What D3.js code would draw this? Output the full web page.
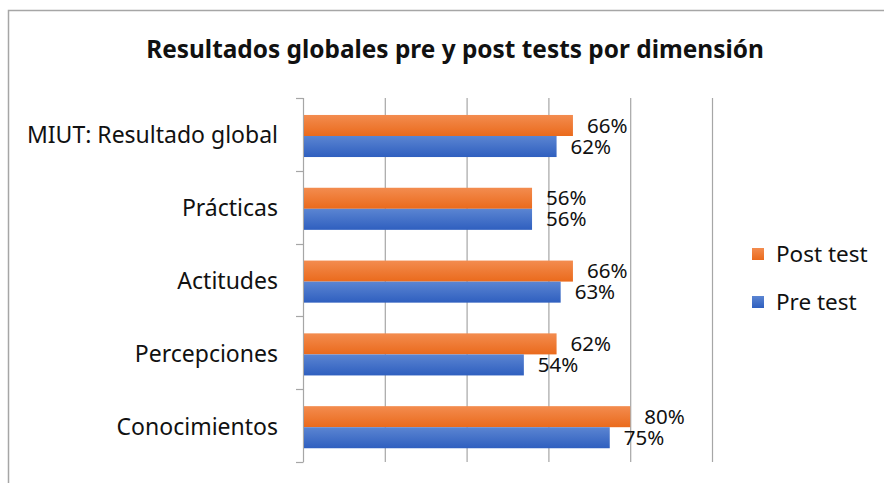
<!DOCTYPE html>
<html>
<head>
<meta charset="utf-8">
<script src="https://cdn.jsdelivr.net/npm/d3@7"></script>
<style>
  body { margin: 0; background: #fff; }
  svg text { font-family: "Noto Sans", "Open Sans", sans-serif; fill: #111; }
</style>
</head>
<body>
<div class="chart"></div>
<script>
// Data (top to bottom)
var categories = ["MIUT: Resultado global", "Prácticas", "Actitudes", "Percepciones", "Conocimientos"];
var postTest = [0.66, 0.56, 0.66, 0.62, 0.80];
var preTest = [0.62, 0.56, 0.63, 0.54, 0.75];
var seriesNames = ["Post test", "Pre test"];
var xTicks = [0, 0.2, 0.4, 0.6, 0.8, 1.0];

var width = 884, height = 483;
var svg = d3.select(".chart").append("svg")
    .attr("width", width)
    .attr("height", height);

/**
 * Gradients for the bars (Excel style)
 */
var defs = svg.append("defs");
function gradient(id, top, bottom) {
    var g = defs.append("linearGradient")
        .attr("id", id)
        .attr("x1", 0).attr("y1", 0).attr("x2", 0).attr("y2", 1);
    g.append("stop").attr("offset", "0%").attr("stop-color", top);
    g.append("stop").attr("offset", "100%").attr("stop-color", bottom);
}
gradient("gradPost", "#f38c4f", "#ea6a1c");
gradient("gradPre", "#5b85d2", "#2f5fbf");

// Outer frame
svg.append("path")
    .attr("d", "M8.5," + height + " V10.5 H" + width)
    .attr("fill", "none")
    .attr("stroke", "#a6a6a6")
    .attr("stroke-width", 1.5);

// Title
svg.append("text")
    .attr("x", 455)
    .attr("y", 58)
    .attr("text-anchor", "middle")
    .style("font-size", "24.4px")
    .style("font-weight", "bold")
    .text("Resultados globales pre y post tests por dimensión");

/**
 * Scales
 */
var x = d3.scaleLinear().domain([0, 1]).range([303, 712]);
var y = d3.scaleBand().domain(categories).range([98, 462]).paddingInner(0).paddingOuter(0);
var inner = d3.scaleBand().domain(seriesNames).range([1.6, y.bandwidth() + 1.6]).paddingInner(0).paddingOuter(0.73);

// Vertical gridlines
svg.append("g")
    .selectAll("line")
    .data(xTicks.slice(1))
    .enter().append("line")
    .attr("x1", function(d) { return x(d) + 0.5; })
    .attr("x2", function(d) { return x(d) + 0.5; })
    .attr("y1", 98)
    .attr("y2", 462)
    .attr("stroke", "#a6a6a6")
    .attr("stroke-width", 1.2);

// Category axis (left), ticks between categories
var boundaries = categories.map(function(c) { return y(c); }).concat([y.range()[1]]);
var axisG = svg.append("g");
axisG.append("line")
    .attr("x1", 303.5).attr("x2", 303.5)
    .attr("y1", 98).attr("y2", 462)
    .attr("stroke", "#a6a6a6")
    .attr("stroke-width", 1.2);
axisG.selectAll(".tick")
    .data(boundaries)
    .enter().append("line")
    .attr("class", "tick")
    .attr("x1", 296).attr("x2", 303.5)
    .attr("y1", function(d) { return Math.round(d) + 0.5; })
    .attr("y2", function(d) { return Math.round(d) + 0.5; })
    .attr("stroke", "#a6a6a6")
    .attr("stroke-width", 1.2);

axisG.selectAll(".cat")
    .data(categories)
    .enter().append("text")
    .attr("class", "cat")
    .attr("x", 278)
    .attr("y", function(d) { return y(d) + y.bandwidth() / 2 + 1; })
    .attr("dy", "0.35em")
    .attr("text-anchor", "end")
    .style("font-size", "23px")
    .text(function(d) { return d; });

/**
 * Bars
 */
var series = [
    { name: "Post test", values: postTest, fill: "url(#gradPost)" },
    { name: "Pre test", values: preTest, fill: "url(#gradPre)" }
];

series.forEach(function(s) {
    var g = svg.append("g").attr("class", "series");
    g.selectAll("rect")
        .data(categories)
        .enter().append("rect")
        .attr("x", x(0) + 1)
        .attr("y", function(d) { return y(d) + inner(s.name); })
        .attr("width", function(d, i) { return x(s.values[i]) - x(0) - 1; })
        .attr("height", inner.bandwidth())
        .attr("fill", s.fill);

    g.selectAll("text")
        .data(categories)
        .enter().append("text")
        .attr("x", function(d, i) { return x(s.values[i]) + 14; })
        .attr("y", function(d) { return y(d) + inner(s.name) + inner.bandwidth() / 2; })
        .attr("dy", "0.35em")
        .style("font-size", "20.5px")
        .text(function(d, i) { return d3.format(".0%")(s.values[i]); });
});

/**
 * Legend
 */
var legend = svg.append("g").attr("class", "legend");
series.forEach(function(s, i) {
    var ly = 254 + i * 48;
    legend.append("rect")
        .attr("x", 752).attr("y", ly - 6)
        .attr("width", 12).attr("height", 12)
        .attr("fill", s.fill);
    legend.append("text")
        .attr("x", 776).attr("y", ly)
        .attr("dy", "0.35em")
        .style("font-size", "22.5px")
        .text(s.name);
});
</script>
</body>
</html>
